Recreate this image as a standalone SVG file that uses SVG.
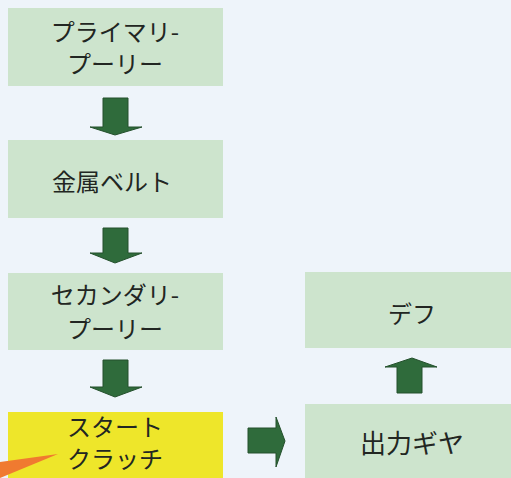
<svg xmlns="http://www.w3.org/2000/svg" width="511" height="478" viewBox="0 0 511 478">
<style>
.box{fill:#cde4cd}
.yel{fill:#eee62a}
.arr{fill:#2f6b3b;stroke:#24502c;stroke-width:1}
text{font-family:"Noto Sans CJK JP","Noto Sans",sans-serif;font-size:24px;fill:#222622;text-anchor:middle;dominant-baseline:central}
</style>
<rect width="511" height="478" fill="#eef4fa"/>
<g id="n1"><rect class="box" x="8" y="8" width="215" height="78"/><text x="115" y="30">プライマリ-</text><text x="115" y="62">プーリー</text></g>
<g id="n2"><rect class="box" x="8" y="140" width="215" height="78"/><text x="112" y="180">金属ベルト</text></g>
<g id="n3"><rect class="box" x="8" y="273" width="215" height="77"/><text x="115" y="293">セカンダリ-</text><text x="115" y="327">プーリー</text></g>
<g id="n4"><rect class="yel" x="8" y="412" width="215" height="66"/><text x="115" y="425">スタート</text><text x="115" y="457">クラッチ</text></g>
<g id="n5"><rect class="box" x="305" y="272" width="206" height="76"/><text x="412" y="312">デフ</text></g>
<g id="n6"><rect class="box" x="305" y="404" width="206" height="74"/><text x="412" y="441" style="font-size:26px">出力ギヤ</text></g>
<g id="connectors">
<polygon class="arr" points="103,98 128,98 128,127 142,127 115,135 90,127 103,127"/>
<polygon class="arr" points="103,228 128,228 128,253 142,253 115,263 90,253 103,253"/>
<polygon class="arr" points="103,360 128,360 128,387 142,387 115,397 90,387 103,387"/>
<polygon class="arr" points="248,428 276,428 276,417 285,441 276,467 276,453 248,453"/>
<polygon class="arr" points="397,393 422,393 422,367 437,367 412,358 385,367 397,367"/>
</g>
<polygon points="0,462 58,454 0,478" fill="#f07a30"/>
</svg>
